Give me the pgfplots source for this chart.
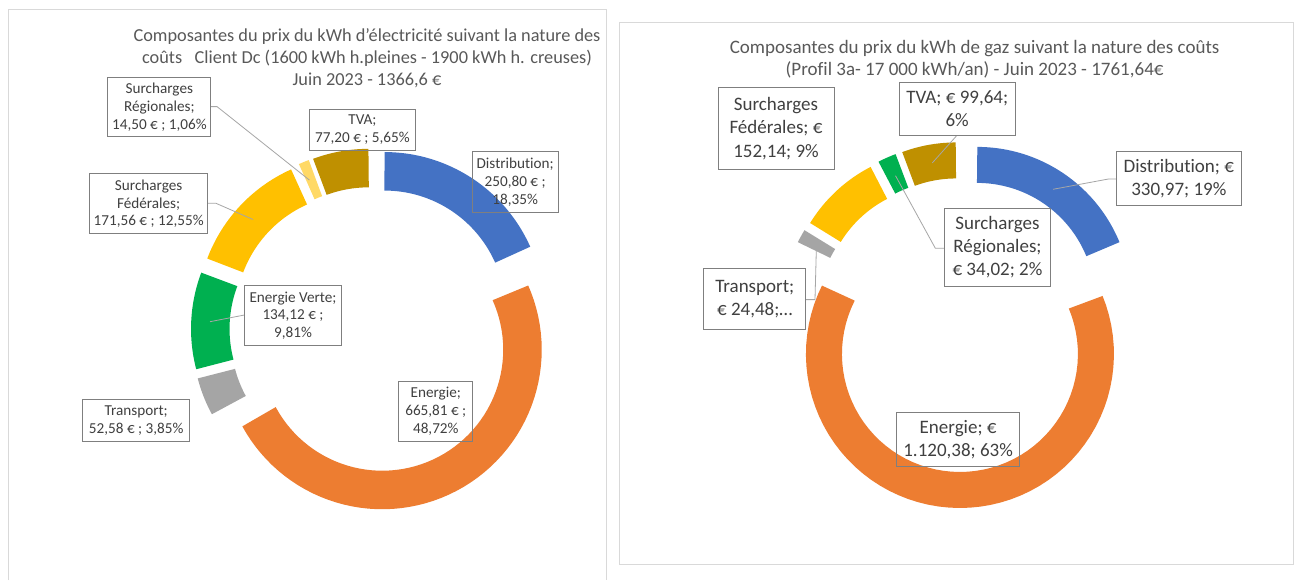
\documentclass[border=0pt]{standalone}
\usepackage{pgfplots}
\pgfplotsset{compat=1.18}
\usepackage{fontspec}
\setmainfont{Carlito}[Ligatures={NoCommon}]
\definecolor{cBlue}{HTML}{4472C4}
\definecolor{cOrange}{HTML}{ED7D31}
\definecolor{cGray}{HTML}{A5A5A5}
\definecolor{cGreen}{HTML}{00B050}
\definecolor{cYellow}{HTML}{FFC000}
\definecolor{cLightYellow}{HTML}{FFD966}
\definecolor{cGold}{HTML}{BF9000}
\definecolor{txt}{HTML}{404040}
\definecolor{ttl}{HTML}{595959}
\definecolor{boxc}{HTML}{7F7F7F}
\definecolor{lead}{HTML}{A6A6A6}
\definecolor{panel}{HTML}{D9D9D9}
% slice: #1 value, #2 colour
\newcommand\slice[2]{%
  \pgfmathsetmacro\aS{90-360*(\cum/\tot)}%
  \pgfmathsetmacro\newcum{\cum+#1}%
  \pgfmathsetmacro\aE{90-360*(\newcum/\tot)}%
  \pgfmathsetmacro\aM{(\aS+\aE)/2}%
  \pgfmathsetmacro\ox{\cx+\ex*cos(\aM)}%
  \pgfmathsetmacro\oy{\cy-\ex*sin(\aM)}%
  \xdef\cum{\newcum}%
  \edef\doit{\noexpand\addplot[draw=#2, line width=\thk pt, domain=\aE:\aS, samples=60, no markers, forget plot] ({\ox+\rmid*cos(x)},{\oy-\rmid*sin(x)});}%
  \doit
}
\newcommand\lbox[7]{% x1 y1 x2 y2 size skip text
  \draw[boxc, line width=0.9pt] (axis cs:#1,#2) rectangle (axis cs:#3,#4);
  \node[txt, align=center, inner sep=0pt, font=\fontsize{#5}{#6}\selectfont] at (axis cs:{(#1+#3)/2},{(#2+#4)/2}) {#7};
}
\begin{document}
\begin{tikzpicture}
\begin{axis}[width=1294pt, height=576pt, scale only axis, xmin=0, xmax=1294, ymin=0, ymax=576, y dir=reverse, hide axis, clip=false]
\path[fill=white] (axis cs:0,0) rectangle (axis cs:1294,576);
\draw[panel, line width=1pt] (axis cs:8,580) -- (axis cs:8,9.5) -- (axis cs:606,9.5) -- (axis cs:606,580);
\draw[panel, line width=1pt] (axis cs:619,23) rectangle (axis cs:1293,564.5);
% ---------- electricity donut ----------
\def\cx{372.5}\def\cy{330}\def\ex{22}\def\rmid{140.25}\def\thk{38.5}
\def\tot{1366.57}\gdef\cum{0}
\slice{250.80}{cBlue}   % Distribution
\slice{665.81}{cOrange} % Energie
\slice{52.58}{cGray}    % Transport
\slice{134.12}{cGreen}  % Energie Verte
\slice{171.56}{cYellow} % Surcharges Federales
\slice{14.50}{cLightYellow} % Surcharges Regionales
\slice{77.20}{cGold}    % TVA
% ---------- gas donut ----------
\def\cx{961}\def\cy{325}\def\ex{29}\def\rmid{136}\def\thk{36}
\def\tot{1761.63}\gdef\cum{0}
\slice{330.97}{cBlue}   % Distribution
\slice{1120.38}{cOrange} % Energie
\slice{24.48}{cGray}    % Transport
\slice{152.14}{cYellow} % Surcharges Federales
\slice{34.02}{cGreen}   % Surcharges Regionales
\slice{99.64}{cGold}    % TVA
% leader lines
\draw[lead, line width=0.8pt] (axis cs:210.9,106.6) -- (axis cs:217,106.6) -- (axis cs:309.3,180);
\draw[lead, line width=0.8pt] (axis cs:207.8,203.3) -- (axis cs:216,203.3) -- (axis cs:253,219.5);
\draw[lead, line width=0.8pt] (axis cs:244.4,315) -- (axis cs:210,321.7);
\draw[lead, line width=0.8pt] (axis cs:957,135.3) -- (axis cs:932.3,162.9);
\draw[lead, line width=0.8pt] (axis cs:1116.3,179) -- (axis cs:1108.5,179) -- (axis cs:1053,189.3);
\draw[lead, line width=0.8pt] (axis cs:944.9,248.2) -- (axis cs:935.3,248.2) -- (axis cs:895.5,175.7);
\draw[lead, line width=0.8pt] (axis cs:805.9,299.6) -- (axis cs:815,299.6) -- (axis cs:816.3,250.7);
% titles
\node[ttl, align=center, inner sep=0pt, font=\fontsize{18.3}{22}\selectfont] at (axis cs:367,58) {Composantes du prix du kWh d\symbol{39}électricité suivant la nature des\\coûts\ \ \ Client Dc (1600 kWh h.pleines - 1900 kWh h. creuses)\\Juin 2023 - 1366,6 €};
\node[ttl, align=center, inner sep=0pt, font=\fontsize{19}{22.8}\selectfont] at (axis cs:974.6,59.2) {Composantes du prix du kWh de gaz suivant la nature des coûts\\(Profil 3a- 17 000 kWh/an) - Juin 2023 - 1761,64€};
% electricity labels
\lbox{107.8}{77.2}{210.9}{136.8}{15.2}{17.8}{Surcharges\\Régionales;\\14,50 € ; 1,06\%}
\lbox{309.3}{109.2}{415.6}{150}{15.2}{17.8}{TVA;\\77,20 € ; 5,65\%}
\lbox{472}{151.8}{558.4}{212.1}{15.2}{17.8}{Distribution;\\250,80 € ;\\18,35\%}
\lbox{89.5}{173.9}{207.8}{233.5}{15.2}{17.8}{Surcharges\\Fédérales;\\171,56 € ; 12,55\%}
\lbox{244.4}{285.7}{341.6}{345.6}{15.2}{17.8}{Energie Verte;\\134,12 € ;\\9,81\%}
\lbox{82.9}{399.6}{189.5}{441.2}{15.2}{17.8}{Transport;\\52,58 € ; 3,85\%}
\lbox{398.8}{381.6}{472.8}{441.2}{15.2}{17.8}{Energie;\\665,81 € ;\\48,72\%}
% gas labels
\lbox{718}{87.1}{834}{169.9}{19}{23.2}{Surcharges\\Fédérales; €\\152,14; 9\%}
\lbox{899}{82}{1015.4}{135.3}{19}{23.2}{TVA; € 99,64;\\6\%}
\lbox{1116.3}{151.8}{1241.4}{205.1}{19}{23.2}{Distribution; €\\330,97; 19\%}
\lbox{944.9}{208.8}{1050}{286}{19}{23.2}{Surcharges\\Régionales;\\€ 34,02; 2\%}
\lbox{703.7}{268.4}{805.9}{329.8}{19}{23.2}{Transport;\\€ 24,48;…}
\lbox{896.4}{412.9}{1019.8}{466.2}{19}{23.2}{Energie; €\\1.120,38; 63\%}
\end{axis}
\end{tikzpicture}
\end{document}
